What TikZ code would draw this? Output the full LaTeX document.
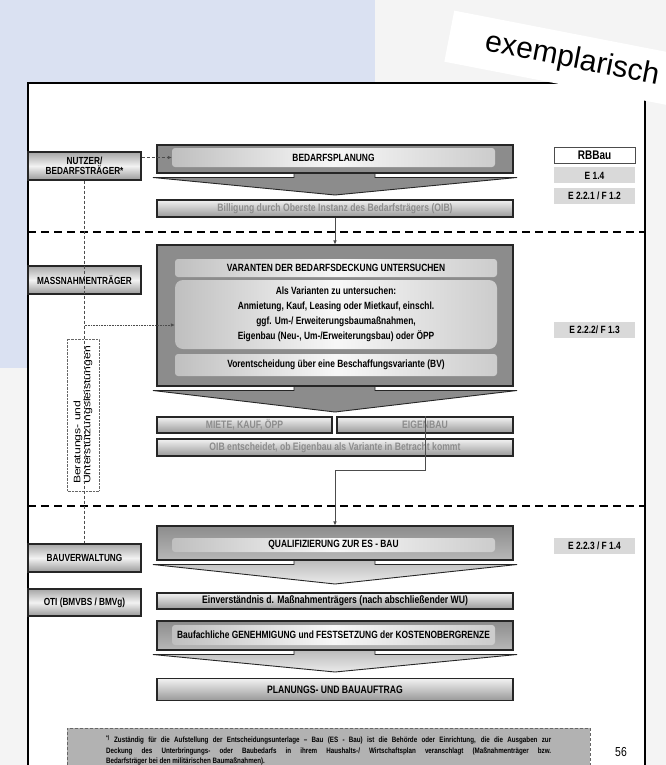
\documentclass[tikz,border=0pt]{standalone}
\usepackage{fontspec}
\setmainfont{Liberation Sans}
\newfontfamily\narrowsans[FakeStretch=0.8]{Liberation Sans}
\newfontfamily\widesans[FakeStretch=1.3]{Liberation Sans}
\usetikzlibrary{arrows.meta,positioning}
\definecolor{pageblue}{HTML}{DAE1F2}
\definecolor{pagegray}{HTML}{F4F4F4}

\begin{document}
\begin{tikzpicture}[x=1pt, y=-1pt,
    role/.style={draw=black!85, line width=1.1pt, top color=black!35, bottom color=black!40, middle color=black!5,
      minimum width=113pt, minimum height=28pt, inner sep=0pt, align=center,
      font=\narrowsans\bfseries\fontsize{10.3}{10.5}\selectfont},
    phase/.style={draw=black!85, line width=1.1pt, fill=black!45, minimum width=356pt, inner sep=0pt},
    banner/.style={rounded corners=3pt, left color=black!25, right color=black!20, middle color=black!3,
      minimum width=323pt, inner sep=0pt, font=\narrowsans\bfseries\fontsize{10.5}{11}\selectfont},
    bar/.style={draw=black!85, line width=1.1pt, top color=black!5, bottom color=black!40,
      minimum width=356pt, inner sep=0pt, font=\narrowsans\bfseries\fontsize{10.8}{11}\selectfont},
    dimtext/.style={text=black!45},
    refbox/.style={fill=black!15, minimum width=81pt, minimum height=16pt, inner sep=0pt,
      font=\narrowsans\bfseries\fontsize{10.5}{11}\selectfont},
    flatfoot/.style={draw=black!85, line width=0.9pt, fill=black!45},
    softfoot/.style={draw=black!85, line width=0.9pt, top color=black!30, bottom color=black!8},
    link/.style={draw=black!70, line width=0.6pt},
    arrowed/.style={-{Latex[length=4pt,width=3.5pt]}},
    section/.style={line width=2.6pt, dash pattern=on 8pt off 5pt},
  ]
	% Page and background
	\useasboundingbox (0,0) rectangle (666,765);
	\fill[pagegray] (0,0) rectangle (666,765);
	\fill[pageblue] (0,0) rectangle (375,368);
	\fill[white] (28,83) rectangle (645,770);
	\draw[line width=1.5pt] (28,770) -- (28,83) -- (645,83) -- (645,770);
	\draw[section] (28,232) -- (645,232);
	\draw[section] (28,506) -- (645,506);
	% Arrow feet under the phases
	\foreach \yb/\yt in {173/195, 386/412}
		\draw[flatfoot] (294,\yb-4) -- (294,\yb+4.5) -- (153,\yb+4.5) -- (335,\yt) -- (517,\yb+4.5) -- (375,\yb+4.5) -- (375,\yb-4) -- cycle;
	\foreach \yb/\yt in {560/584, 650/672}
		\draw[softfoot] (294,\yb-4) -- (294,\yb+4.5) -- (153,\yb+4.5) -- (335,\yt) -- (517,\yb+4.5) -- (375,\yb+4.5) -- (375,\yb-4) -- cycle;
	% Roles
	\node[role] (nutzer) at (84.5,166) {NUTZER/\\BEDARFSTRÄGER*};
	\node[role] (massn) at (84.5,280) {MASSNAHMENTRÄGER};
	\node[role] (bauverw) at (84.5,558) {BAUVERWALTUNG};
	\node[role, minimum height=27pt] (oti) at (84.5,602.5) {OTI (BMVBS / BMVg)};
	% Phases
	\node[phase, minimum height=28pt] (bedarf) at (335,159) {};
	\node[banner, minimum height=19pt] (bedarfhead) at (333.5,157.5) {BEDARFSPLANUNG};
	\node[bar, dimtext, minimum height=17pt] (billigung) at (335,208.5) {Billigung durch Oberste Instanz des Bedarfsträgers (OIB)};
	\node[phase, minimum height=141pt] (varianten) at (335,315.5) {};
	\node[banner, minimum width=322pt, minimum height=18pt] (varhead) at (336,268) {VARANTEN DER BEDARFSDECKUNG UNTERSUCHEN};
	\node[banner, minimum width=322pt, minimum height=69pt, rounded corners=8pt, align=center,
	      font=\narrowsans\bfseries\fontsize{10.5}{15}\selectfont] (vardetail) at (336,314.5)
		{Als Varianten zu untersuchen:\\Anmietung, Kauf, Leasing oder Mietkauf, einschl.\\ggf. Um-/ Erweiterungsbaumaßnahmen,\\Eigenbau (Neu-, Um-/Erweiterungsbau) oder ÖPP};
	\node[banner, minimum width=322pt, minimum height=22pt] (vorent) at (336,365) {Vorentscheidung über eine Beschaffungsvariante (BV)};
	\node[bar, dimtext, minimum width=175pt, minimum height=16pt] (miete) at (244.5,425) {MIETE, KAUF, ÖPP};
	\node[bar, dimtext, minimum width=176pt, minimum height=16pt] (eigenbau) at (425,425) {EIGENBAU};
	\node[bar, dimtext, minimum height=17pt] (oib) at (335,447.5) {OIB entscheidet, ob Eigenbau als Variante in Betracht kommt};
	\node[phase, top color=black!45, bottom color=black!28, minimum height=34pt] (quali) at (335,543) {};
	\node[banner, minimum height=14pt] (qualihead) at (333.5,545) {QUALIFIZIERUNG ZUR ES - BAU};
	\node[bar, minimum height=16pt] (einverst) at (335,601) {Einverständnis d. Maßnahmenträgers (nach abschließender WU)};
	\node[phase, top color=black!45, bottom color=black!28, minimum height=29pt] (genehm) at (335,635.5) {};
	\node[banner, minimum height=20pt] (genehmhead) at (333.5,635) {Baufachliche GENEHMIGUNG und FESTSETZUNG der KOSTENOBERGRENZE};
	\node[bar, minimum height=22pt] (auftrag) at (335,689.5) {PLANUNGS- UND BAUAUFTRAG};
	% RBBau references
	\node[refbox, fill=white, draw=black!70, font=\narrowsans\bfseries\fontsize{12.5}{13}\selectfont] (rbbau) at (594.5,155) {RBBau};
	\node[refbox, below=4pt of rbbau] (e14) {E 1.4};
	\node[refbox, below=4pt of e14] (e221) {E 2.2.1 / F 1.2};
	\node[refbox] (e222) at (594.5,330) {E 2.2.2/ F 1.3};
	\node[refbox] (e223) at (594.5,546) {E 2.2.3 / F 1.4};
	% Advice column
	\node[draw=black!60, densely dotted, rotate=90, minimum width=152pt, minimum height=32pt, inner sep=0pt,
	      align=left, font=\widesans\fontsize{9.4}{10}\selectfont] (advice) at (83,415) {Beratungs- und\\Unterstützungsleistungen};
	% Connect the boxes
	\coordinate (branch) at (84.5,325);
	\coordinate (detour) at (335,470);
	\draw[link, densely dashed, arrowed] (nutzer.east |- bedarfhead.west) -- (bedarfhead.west);
	\draw[link, densely dashed] (nutzer.south) -- (bauverw.north);
	\draw[link, densely dotted, arrowed] (branch) -- (branch -| vardetail.west);
	\draw[link, arrowed] (billigung.south) -- (varianten.north);
	\draw[link, arrowed] (eigenbau.north) |- (detour) -- (quali.north);
	% Footnote and page number
	\node[draw=black!60, densely dashed, fill=black!30, anchor=north west, text width=445pt, inner xsep=39pt, inner ysep=7pt,
	      minimum height=45pt, align=left, font=\narrowsans\bfseries\fontsize{7.8}{10.5}\selectfont] (note) at (67,728)
		{\spaceskip=0.22em plus 1.5em minus 0.05em
		 \leavevmode\hbox to 445pt{\textsuperscript{*)} Zuständig für die Aufstellung der Entscheidungsunterlage – Bau (ES - Bau) ist die Behörde oder Einrichtung, die die Ausgaben zur}\\
		 \leavevmode\hbox to 445pt{Deckung des Unterbringungs- oder Baubedarfs in ihrem Haushalts-/ Wirtschaftsplan veranschlagt (Maßnahmenträger bzw.}\\
		 Bedarfsträger bei den militärischen Baumaßnahmen).};
	\node[font=\narrowsans\fontsize{13}{13}\selectfont] (pageno) at (621,752) {56};
	% Stamp
	\node[fill=white, rotate=-11, minimum width=250pt, minimum height=52pt, font=\fontsize{30}{30}\selectfont] (stamp) at (572,60) {exemplarisch};
\end{tikzpicture}
\end{document}
